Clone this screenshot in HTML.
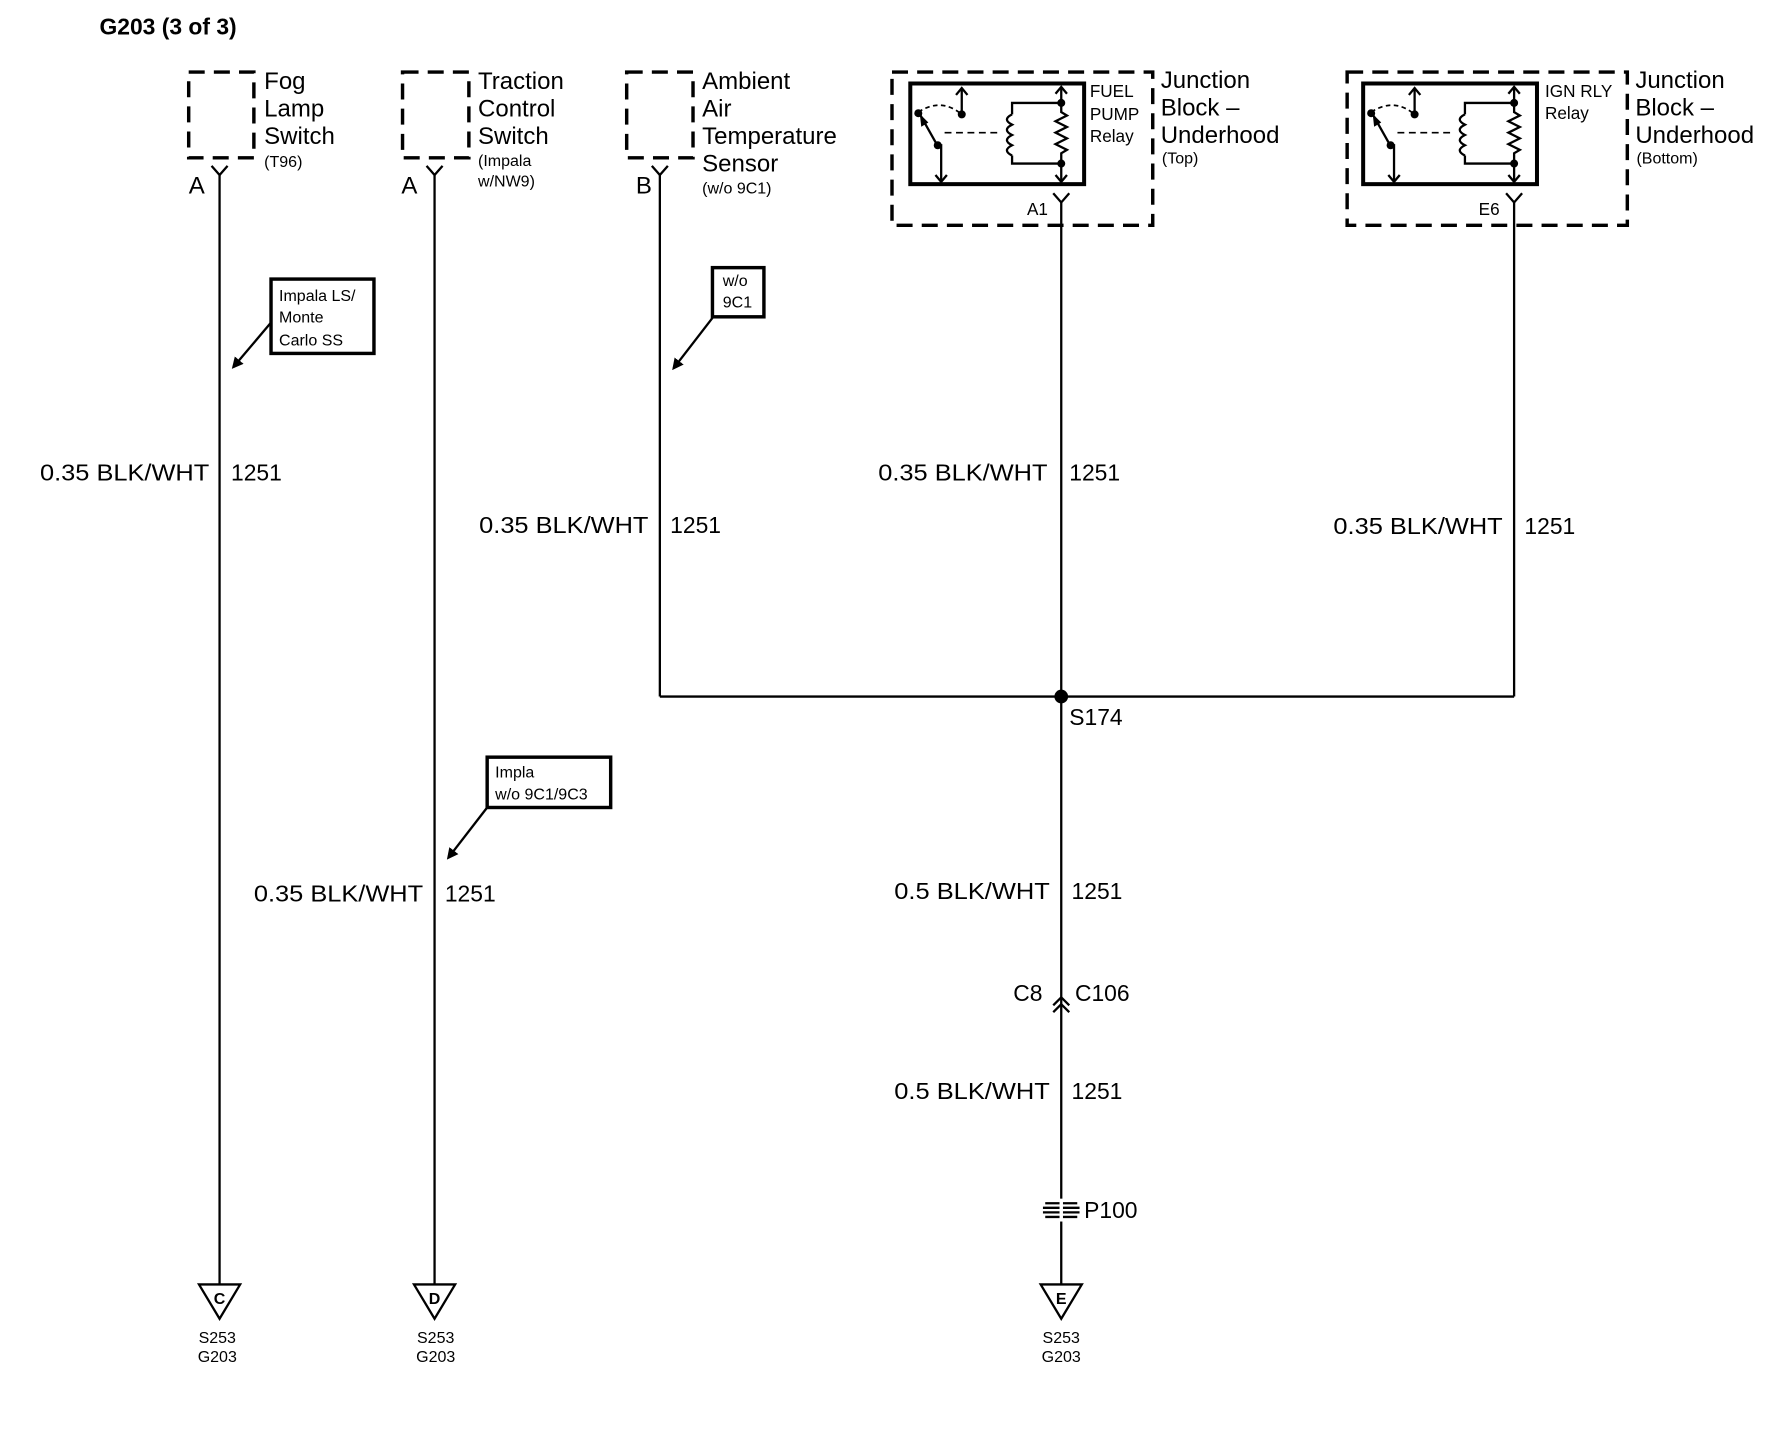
<!DOCTYPE html>
<html><head><meta charset="utf-8"><style>
html,body{margin:0;padding:0;background:#fff;}
svg{display:block;}
text{font-family:"Liberation Sans",Arial,sans-serif;fill:#000;}
.b{font-size:21px;}
.w{font-size:20px;}
.s{font-size:14px;}
.m{font-size:15px;}
</style></head><body>
<svg width="1792" height="1456" viewBox="0 0 1567 1273" preserveAspectRatio="none" xmlns="http://www.w3.org/2000/svg">
<defs>
<marker id="ar" markerWidth="10" markerHeight="10" refX="8" refY="5" orient="auto" markerUnits="userSpaceOnUse" viewBox="0 0 10 10">
<path d="M0,0 L10,5 L0,10 z" fill="#000"/></marker>
<g id="relay" stroke="#000" fill="none">
<rect x="0" y="0" width="152" height="88" stroke-width="3.5"/>
<path d="M7,25 Q27,12 45,27" stroke-width="1.5" stroke-dasharray="4,3"/>
<line x1="45" y1="27" x2="45" y2="4" stroke-width="2"/>
<path d="M40,10 L45,4 L50,10" stroke-width="2"/>
<line x1="23" y1="53" x2="9" y2="28" stroke-width="2"/>
<path d="M9,28 L10,37 L15,34 z" fill="#000"/>
<line x1="27" y1="53" x2="27" y2="86" stroke-width="2"/>
<path d="M22,80 L27,86 L32,80" stroke-width="2"/>
<line x1="30" y1="43" x2="80" y2="43" stroke-width="1.5" stroke-dasharray="6,4"/>
<path d="M132,17 L89,17 L89,27 M89,63 L89,70 L132,70" stroke-width="2"/>
<path d="M89,27 q-9,4.5 0,9 q-9,4.5 0,9 q-9,4.5 0,9 q-9,4.5 0,9" stroke-width="2"/>
<path d="M132,17 L132,25 L137,28 L127,33 L137,38 L127,43 L137,48 L127,53 L137,58 L132,61 L132,70" stroke-width="2"/>
<line x1="132" y1="17" x2="132" y2="3" stroke-width="2"/>
<path d="M127,9 L132,3 L137,9" stroke-width="2"/>
<line x1="132" y1="70" x2="132" y2="86" stroke-width="2"/>
<path d="M127,80 L132,86 L137,80" stroke-width="2"/>
<circle cx="7" cy="26" r="3.5" fill="#000" stroke="none"/>
<circle cx="45" cy="27" r="3.5" fill="#000" stroke="none"/>
<circle cx="24" cy="54" r="3.5" fill="#000" stroke="none"/>
<circle cx="132" cy="17" r="3.5" fill="#000" stroke="none"/>
<circle cx="132" cy="70" r="3.5" fill="#000" stroke="none"/>
</g>
</defs>

<text x="87" y="30" style="font-size:20px;font-weight:bold">G203 (3 of 3)</text>

<g stroke="#000" stroke-width="3" fill="none" stroke-dasharray="14,8">
<rect x="165" y="63" width="57" height="75"/>
<rect x="352" y="63" width="58" height="75"/>
<rect x="548" y="63" width="58" height="75"/>
<rect x="780" y="63" width="228" height="134"/>
<rect x="1178" y="63" width="245" height="134"/>
</g>

<use href="#relay" x="796" y="73"/>
<use href="#relay" x="1192" y="73"/>

<g stroke="#000" stroke-width="2" fill="none">
<path d="M185,145 L192,153 L199,145"/>
<path d="M373,145 L380,153 L387,145"/>
<path d="M570,145 L577,153 L584,145"/>
<path d="M921,169 L928,177 L935,169"/>
<path d="M1317,169 L1324,177 L1331,169"/>
<line x1="192" y1="153" x2="192" y2="1123"/>
<line x1="380" y1="153" x2="380" y2="1123"/>
<line x1="577" y1="153" x2="577" y2="609"/>
<line x1="928" y1="177" x2="928" y2="1123"/>
<line x1="1324" y1="177" x2="1324" y2="609"/>
<line x1="577" y1="609" x2="1324" y2="609"/>
<path d="M921,879 L928,872 L935,879"/>
<path d="M921,885 L928,878 L935,885"/>
<path d="M174,1123 L210,1123 L192,1153 z"/>
<path d="M362,1123 L398,1123 L380,1153 z"/>
<path d="M910,1123 L946,1123 L928,1153 z"/>
<path d="M914,1052 L942,1052 M912,1056 L944,1056 M912,1060 L944,1060 M914,1064 L942,1064" stroke-width="2"/>
<rect x="237" y="244" width="90" height="65" stroke-width="3"/>
<rect x="623" y="234" width="45" height="43" stroke-width="3"/>
<rect x="426" y="662" width="108" height="44" stroke-width="3"/>
<line x1="237" y1="282" x2="204" y2="321" marker-end="url(#ar)"/>
<line x1="623" y1="278" x2="589" y2="322" marker-end="url(#ar)"/>
<line x1="426" y1="706" x2="392" y2="750" marker-end="url(#ar)"/>
</g>
<circle cx="928" cy="609" r="6" fill="#000"/>
<rect x="926.5" y="1048" width="3" height="20" fill="#fff"/>

<text class="b" x="231" y="78">Fog</text>
<text class="b" x="231" y="102">Lamp</text>
<text class="b" x="231" y="126">Switch</text>
<text class="s" x="231" y="146">(T96)</text>
<text class="b" x="165" y="169">A</text>

<text class="b" x="418" y="78">Traction</text>
<text class="b" x="418" y="102">Control</text>
<text class="b" x="418" y="126">Switch</text>
<text class="s" x="418" y="145">(Impala</text>
<text class="s" x="418" y="163">w/NW9)</text>
<text class="b" x="351" y="169">A</text>

<text class="b" x="614" y="78">Ambient</text>
<text class="b" x="614" y="102">Air</text>
<text class="b" x="614" y="126">Temperature</text>
<text class="b" x="614" y="150">Sensor</text>
<text class="s" x="614" y="169">(w/o 9C1)</text>
<text class="b" x="556" y="169">B</text>

<text class="m" x="953" y="85">FUEL</text>
<text class="m" x="953" y="105">PUMP</text>
<text class="m" x="953" y="124">Relay</text>
<text class="b" x="1015" y="77">Junction</text>
<text class="b" x="1015" y="101">Block –</text>
<text class="b" x="1015" y="125">Underhood</text>
<text class="s" x="1016" y="143">(Top)</text>
<text class="m" x="898" y="188">A1</text>

<text class="m" x="1351" y="85">IGN RLY</text>
<text class="m" x="1351" y="104">Relay</text>
<text class="b" x="1430" y="77">Junction</text>
<text class="b" x="1430" y="101">Block –</text>
<text class="b" x="1430" y="125">Underhood</text>
<text class="s" x="1431" y="143">(Bottom)</text>
<text class="m" x="1293" y="188">E6</text>

<text class="s" x="244" y="263">Impala LS/</text>
<text class="s" x="244" y="282">Monte</text>
<text class="s" x="244" y="302">Carlo SS</text>
<text class="s" x="632" y="250">w/o</text>
<text class="s" x="632" y="269">9C1</text>
<text class="s" x="433" y="680">Impla</text>
<text class="s" x="433" y="699">w/o 9C1/9C3</text>

<g class="w">
<text x="35" y="420" textLength="148" lengthAdjust="spacingAndGlyphs">0.35 BLK/WHT</text>
<text x="202" y="420">1251</text>
<text x="419" y="466" textLength="148" lengthAdjust="spacingAndGlyphs">0.35 BLK/WHT</text>
<text x="586" y="466">1251</text>
<text x="768" y="420" textLength="148" lengthAdjust="spacingAndGlyphs">0.35 BLK/WHT</text>
<text x="935" y="420">1251</text>
<text x="1166" y="467" textLength="148" lengthAdjust="spacingAndGlyphs">0.35 BLK/WHT</text>
<text x="1333" y="467">1251</text>
<text x="222" y="788" textLength="148" lengthAdjust="spacingAndGlyphs">0.35 BLK/WHT</text>
<text x="389" y="788">1251</text>
<text x="782" y="786" textLength="136" lengthAdjust="spacingAndGlyphs">0.5 BLK/WHT</text>
<text x="937" y="786">1251</text>
<text x="782" y="961" textLength="136" lengthAdjust="spacingAndGlyphs">0.5 BLK/WHT</text>
<text x="937" y="961">1251</text>
<text x="935" y="634">S174</text>
<text x="886" y="875">C8</text>
<text x="940" y="875">C106</text>
<text x="948" y="1065">P100</text>
</g>

<g style="font-size:14px;font-weight:bold" text-anchor="middle">
<text x="192" y="1140">C</text>
<text x="380" y="1140">D</text>
<text x="928" y="1140">E</text>
</g>
<g class="s" text-anchor="middle">
<text x="190" y="1174">S253</text><text x="190" y="1191">G203</text>
<text x="381" y="1174">S253</text><text x="381" y="1191">G203</text>
<text x="928" y="1174">S253</text><text x="928" y="1191">G203</text>
</g>
</svg>
</body></html>
